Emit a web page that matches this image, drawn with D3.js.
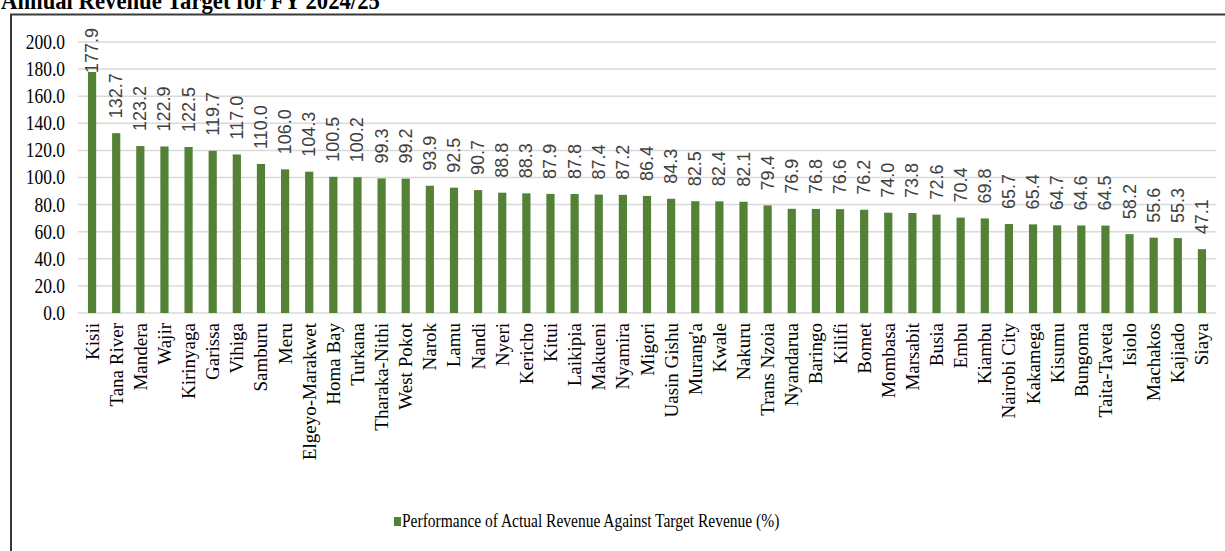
<!DOCTYPE html>
<html><head><meta charset="utf-8">
<script src="https://cdn.jsdelivr.net/npm/d3@7"></script>
<style>body{margin:0;background:#fff}svg{display:block}</style>
</head><body>
<script>
const categories = ["Kisii","Tana River","Mandera","Wajir","Kirinyaga","Garissa","Vihiga","Samburu","Meru","Elgeyo-Marakwet","Homa Bay","Turkana","Tharaka-Nithi","West Pokot","Narok","Lamu","Nandi","Nyeri","Kericho","Kitui","Laikipia","Makueni","Nyamira","Migori","Uasin Gishu","Murang'a","Kwale","Nakuru","Trans Nzoia","Nyandarua","Baringo","Kilifi","Bomet","Mombasa","Marsabit","Busia","Embu","Kiambu","Nairobi City","Kakamega","Kisumu","Bungoma","Taita-Taveta","Isiolo","Machakos","Kajiado","Siaya"];
const values = [177.9,132.7,123.2,122.9,122.5,119.7,117.0,110.0,106.0,104.3,100.5,100.2,99.3,99.2,93.9,92.5,90.7,88.8,88.3,87.9,87.8,87.4,87.2,86.4,84.3,82.5,82.4,82.1,79.4,76.9,76.8,76.6,76.2,74.0,73.8,72.6,70.4,69.8,65.7,65.4,64.7,64.6,64.5,58.2,55.6,55.3,47.1];
const yTicks = [0,20,40,60,80,100,120,140,160,180,200];
const seriesName = "Performance of Actual Revenue Against Target Revenue (%)";
const titleText = "Annual Revenue Target for FY 2024/25";

const W = 1225, H = 551;
const SERIF = "Liberation Serif, Times New Roman, serif";
const SANS = "Liberation Sans, Arial, sans-serif";
const svg = d3.select("body").append("svg").attr("width", W).attr("height", H);

// title (partially cut at top, as in the source)
svg.append("text").attr("transform", "translate(1,8.5) scale(1,1.15)")
  .attr("font-family", SERIF).attr("font-weight", "bold").attr("font-size", 22.7).attr("fill", "#000")
  .text(titleText);

// frame
svg.append("rect").attr("x", 11).attr("y", 14.5).attr("width", 1400).attr("height", 700)
  .attr("fill", "none").attr("stroke", "#3a3a3a").attr("stroke-width", 2);

const x = d3.scaleBand().domain(categories).range([80, 1214]).paddingInner(0.66).paddingOuter(0.33);
const y = d3.scaleLinear().domain([0, 200]).range([313, 42]);

// gridlines
svg.append("g").selectAll("line").data(yTicks).join("line")
  .attr("x1", 78).attr("x2", 1216)
  .attr("y1", d => y(d)).attr("y2", d => y(d))
  .attr("stroke", "#d9d9d9").attr("stroke-width", 1.5);

// y axis labels
const yAxis = d3.axisLeft(y).tickValues(yTicks).tickFormat(d3.format(".1f")).tickSize(0).tickPadding(0);
const gy = svg.append("g").attr("transform", "translate(65,0)").call(yAxis);
gy.select(".domain").remove();
gy.selectAll("text").attr("font-family", SERIF)
  .attr("font-size", 17.5).attr("fill", "#000").attr("transform", "scale(1,1.15)");

// bars
svg.append("g").selectAll("rect").data(values).join("rect")
  .attr("x", (d, i) => x(categories[i]))
  .attr("width", x.bandwidth())
  .attr("y", d => y(d))
  .attr("height", d => y(0) - y(d))
  .attr("fill", "#538135");

// value labels (outside end, kept inside chart top)
const vFont = 18;
const fmt = d3.format(".1f");
svg.append("g").selectAll("text").data(values).join("text")
  .attr("transform", (d, i) => {
    const s = fmt(d);
    const len = (s.length - 1) * 0.556 * vFont + 0.278 * vFont;
    let bottom = y(d) - 15;
    if (bottom - len < 28) bottom = 28 + len;
    return `translate(${x(categories[i]) + x.bandwidth()/2},${bottom}) rotate(-90)`;
  })
  .attr("text-anchor", "start").attr("dominant-baseline", "central")
  .attr("font-family", SANS).attr("font-size", vFont)
  .attr("fill", "#404040")
  .text(d => fmt(d));

// category labels
svg.append("g").selectAll("text").data(categories).join("text")
  .attr("transform", d => `translate(${x(d) + x.bandwidth()/2},323) rotate(-90)`)
  .attr("text-anchor", "end").attr("dominant-baseline", "central")
  .attr("font-family", SERIF).attr("font-size", 19)
  .attr("fill", "#000")
  .text(d => d);

// legend
svg.append("rect").attr("x", 394).attr("y", 517).attr("width", 7).attr("height", 9).attr("fill", "#538135");
svg.append("text").attr("transform", "translate(402,527) scale(1,1.2)")
  .attr("font-family", SERIF).attr("font-size", 15.5)
  .attr("fill", "#000").text(seriesName);
</script>
</body></html>
